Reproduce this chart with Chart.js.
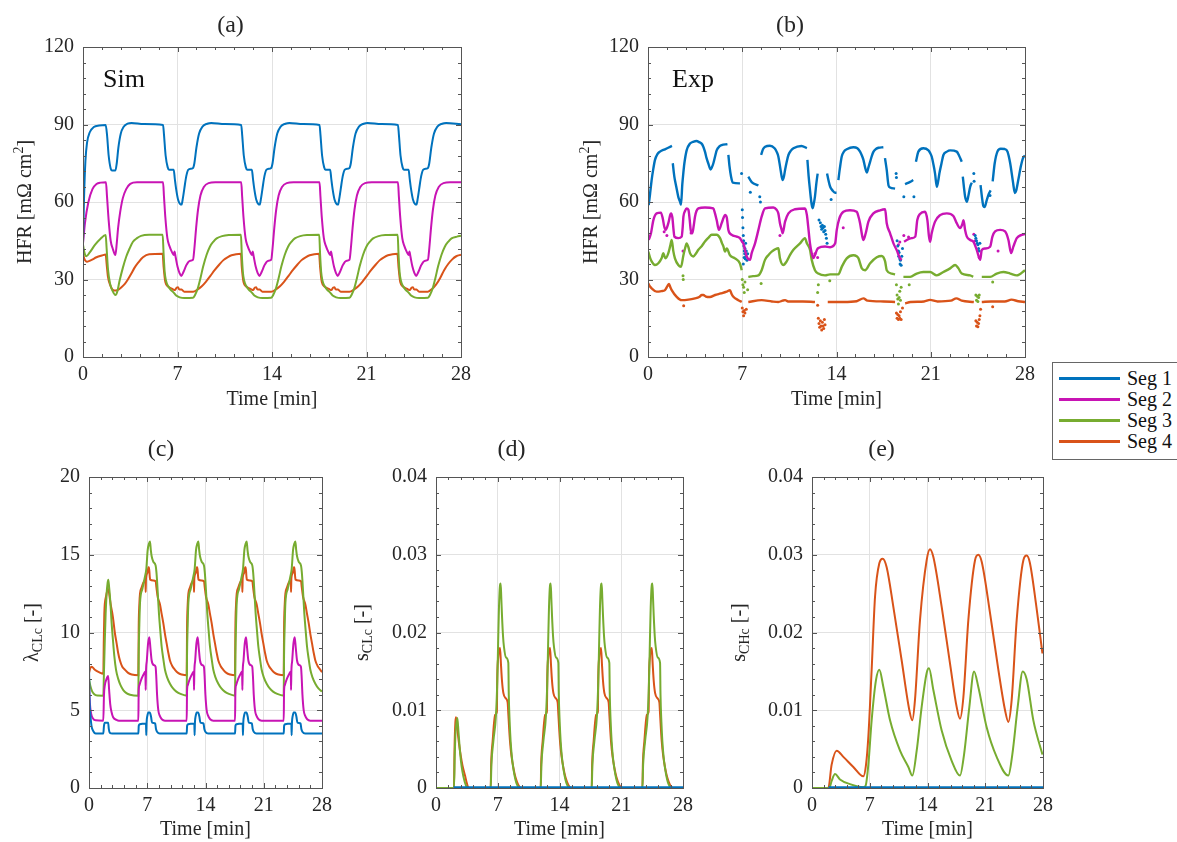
<!DOCTYPE html>
<html>
<head>
<meta charset="utf-8">
<script src="https://cdn.jsdelivr.net/npm/chart.js@4.4.0/dist/chart.umd.min.js"></script>
<style>
  html, body { margin: 0; padding: 0; background: #fff; overflow: hidden; }
  #wrap { position: relative; width: 1177px; height: 842px; overflow: hidden; }
  canvas { position: absolute; }
  .note { position: absolute; font: 26px 'Liberation Serif', serif; line-height: 26px; color: #111; }
  #legend { position: absolute; left: 1052px; top: 362px; width: 170px; height: 96px; border: 1px solid #666; background: #fff; }
  #legend .row { position: absolute; left: 0; width: 100%; height: 20px; }
  #legend .ln { position: absolute; left: 6px; top: 9px; width: 61px; height: 2.5px; }
  #legend .tx { position: absolute; left: 74px; top: 0; font: 20px 'Liberation Serif', serif; line-height: 20px; color: #111; }
</style>
</head>
<body>
<div id="wrap">
  <canvas id="chartA" width="534" height="420" style="left:0;top:0"></canvas>
  <canvas id="chartB" width="562" height="420" style="left:555px;top:0"></canvas>
  <canvas id="chartC" width="400" height="422" style="left:0;top:420px"></canvas>
  <canvas id="chartD" width="428" height="422" style="left:340px;top:420px"></canvas>
  <canvas id="chartE" width="404" height="422" style="left:720px;top:420px"></canvas>
  <div class="note" style="left:103px;top:66px">Sim</div>
  <div class="note" style="left:672px;top:66px">Exp</div>
  <div id="legend"></div>
</div>
<script>
// series names / colours
const segNames = ['Seg 1', 'Seg 2', 'Seg 3', 'Seg 4'];
const segColors = ['#0072bd', '#c814b4', '#77ac30', '#d95319'];

// tick labels
const timeTicks = [0, 7, 14, 21, 28];
const hfrTicks = [0, 30, 60, 90, 120];
const lambdaTicks = [0, 5, 10, 15, 20];
const satTicks = [0, 0.01, 0.02, 0.03, 0.04];

// (a) simulated HFR [mOhm cm2] vs time [min]
const hfrSimSeg1 = [[0,44],[0.08,62],[0.18,76],[0.3,83],[0.5,87],[0.8,89],[1.2,89.6],[1.68,89.8],[1.78,86],[1.9,78],[2.05,73],[2.15,72.2],[2.4,72.2],[2.5,75],[2.62,81],[2.8,86.5],[3.0,89],[3.3,90.3],[3.6,90.6],[4.5,90.2],[5.93,89.8],
  [6.0,86],[6.12,78],[6.27,73.5],[6.37,72.5],[6.72,72.5],[6.8,69],[6.9,65],[7.04,61],[7.2,59.2],[7.3,59],[7.4,61.5],[7.5,65],[7.65,70],[7.8,72.5],[8.15,73.2],[8.25,75],[8.4,81],[8.6,86.5],[8.85,89.2],[9.2,90.3],[9.5,90.6],[10.5,90.2],[11.72,89.8],
  [11.79,86],[11.91,78],[12.06,73.5],[12.16,72.5],[12.51,72.5],[12.59,69],[12.69,65],[12.83,61],[12.99,59.2],[13.09,59],[13.19,61.5],[13.29,65],[13.44,70],[13.59,72.5],[13.94,73.2],[14.04,75],[14.19,81],[14.39,86.5],[14.64,89.2],[14.99,90.3],[15.29,90.6],[16.3,90.2],[17.52,89.8],
  [17.59,86],[17.71,78],[17.86,73.5],[17.96,72.5],[18.31,72.5],[18.39,69],[18.49,65],[18.63,61],[18.79,59.2],[18.89,59],[18.99,61.5],[19.09,65],[19.24,70],[19.39,72.5],[19.74,73.2],[19.84,75],[19.99,81],[20.19,86.5],[20.44,89.2],[20.79,90.3],[21.09,90.6],[22.1,90.2],[23.33,89.8],
  [23.4,86],[23.52,78],[23.67,73.5],[23.77,72.5],[24.12,72.5],[24.2,69],[24.3,65],[24.44,61],[24.6,59.2],[24.7,59],[24.8,61.5],[24.9,65],[25.05,70],[25.2,72.5],[25.55,73.2],[25.65,75],[25.8,81],[26.0,86.5],[26.25,89.2],[26.6,90.3],[26.9,90.6],[28,90.1]];
const hfrSimSeg2 = [[0,44],[0.15,52],[0.4,60],[0.7,65],[1.0,67],[1.3,67.5],[1.7,67.6],[1.78,62],[1.9,53],[2.05,45],[2.2,42],[2.4,39.5],[2.5,44],[2.6,50],[2.75,56],[2.95,61.5],[3.2,65],[3.5,67],[4.0,67.6],[5.93,67.6],
  [6.0,62],[6.1,54],[6.25,46],[6.4,43],[6.6,40.5],[6.72,39.5],[6.78,40.8],[6.85,39],[7.0,35],[7.15,32.5],[7.28,31.4],[7.45,33],[7.65,35.5],[7.9,37.2],[8.15,37.6],[8.25,42],[8.38,50],[8.52,57],[8.7,62.5],[8.95,65.8],[9.3,67.3],[9.8,67.6],[11.72,67.6],
  [11.79,62],[11.89,54],[12.04,46],[12.19,43],[12.39,40.5],[12.51,39.5],[12.57,40.8],[12.64,39],[12.79,35],[12.94,32.5],[13.07,31.4],[13.24,33],[13.44,35.5],[13.69,37.2],[13.94,37.6],[14.04,42],[14.17,50],[14.31,57],[14.49,62.5],[14.74,65.8],[15.09,67.3],[15.59,67.6],[17.52,67.6],
  [17.59,62],[17.69,54],[17.84,46],[17.99,43],[18.19,40.5],[18.31,39.5],[18.37,40.8],[18.44,39],[18.59,35],[18.74,32.5],[18.87,31.4],[19.04,33],[19.24,35.5],[19.49,37.2],[19.74,37.6],[19.84,42],[19.97,50],[20.11,57],[20.29,62.5],[20.54,65.8],[20.89,67.3],[21.39,67.6],[23.33,67.6],
  [23.4,62],[23.5,54],[23.65,46],[23.8,43],[24.0,40.5],[24.12,39.5],[24.18,40.8],[24.25,39],[24.4,35],[24.55,32.5],[24.68,31.4],[24.85,33],[25.05,35.5],[25.3,37.2],[25.55,37.6],[25.65,42],[25.78,50],[25.92,57],[26.1,62.5],[26.35,65.8],[26.7,67.3],[27.2,67.6],[28,67.6]];
const hfrSimSeg3 = [[0,43.5],[0.1,40.5],[0.25,39],[0.5,40.5],[0.9,43.5],[1.3,45.8],[1.68,47.2],[1.75,42],[1.85,34],[2.0,28.5],[2.2,25.5],[2.4,24],[2.55,25.5],[2.7,29.3],[2.95,34.5],[3.2,38.8],[3.45,42],[3.7,44.6],[4.0,46],[4.3,46.9],[4.9,47.3],[5.9,47.3],
  [5.97,40],[6.05,33],[6.15,29.5],[6.3,27.5],[6.5,26],[6.7,25],[6.9,23.8],[7.16,23.1],[7.5,22.8],[8.15,22.9],[8.3,24],[8.5,26.5],[8.7,30.5],[8.9,35],[9.15,39.5],[9.4,42.7],[9.65,44.6],[9.9,45.9],[10.3,46.8],[10.8,47.2],[11.7,47.3],
  [11.76,40],[11.84,33],[11.94,29.5],[12.09,27.5],[12.29,26],[12.49,25],[12.69,23.8],[12.95,23.1],[13.29,22.8],[13.94,22.9],[14.09,24],[14.29,26.5],[14.49,30.5],[14.69,35],[14.94,39.5],[15.19,42.7],[15.44,44.6],[15.69,45.9],[16.09,46.8],[16.59,47.2],[17.5,47.3],
  [17.56,40],[17.64,33],[17.74,29.5],[17.89,27.5],[18.09,26],[18.29,25],[18.49,23.8],[18.75,23.1],[19.09,22.8],[19.74,22.9],[19.89,24],[20.09,26.5],[20.29,30.5],[20.49,35],[20.74,39.5],[20.99,42.7],[21.24,44.6],[21.49,45.9],[21.89,46.8],[22.39,47.2],[23.31,47.3],
  [23.37,40],[23.45,33],[23.55,29.5],[23.7,27.5],[23.9,26],[24.1,25],[24.3,23.8],[24.56,23.1],[24.9,22.8],[25.55,22.9],[25.7,24],[25.9,26.5],[26.1,30.5],[26.3,35],[26.55,39.5],[26.8,42.7],[27.05,44.6],[27.3,45.9],[27.7,46.6],[28,46.9]];
const hfrSimSeg4 = [[0,40],[0.1,38],[0.3,36.9],[0.6,37.5],[1.0,38.6],[1.4,39.3],[1.68,39.7],[1.75,36],[1.85,31],[2.0,28],[2.2,26],[2.45,25.7],[2.65,26.2],[2.85,27],[3.1,28.3],[3.3,29.8],[3.55,32],[3.8,34.4],[4.1,36.6],[4.44,38.6],[4.9,39.8],[5.9,40],
  [5.97,35],[6.1,29],[6.3,27.3],[6.67,26.2],[6.8,25.9],[6.95,26.9],[7.04,27],[7.12,26.2],[7.3,26.1],[7.5,25.3],[8.15,25.3],[8.5,26.2],[8.8,27.4],[9.1,29.1],[9.45,31.5],[9.75,33.6],[10.1,35.8],[10.4,37.5],[10.7,38.6],[11.0,39.4],[11.7,40],
  [11.76,35],[11.89,29],[12.09,27.3],[12.46,26.2],[12.59,25.9],[12.74,26.9],[12.83,27],[12.91,26.2],[13.09,26.1],[13.29,25.3],[13.94,25.3],[14.29,26.2],[14.59,27.4],[14.89,29.1],[15.24,31.5],[15.54,33.6],[15.89,35.8],[16.19,37.5],[16.49,38.6],[16.79,39.4],[17.49,40],
  [17.56,35],[17.69,29],[17.89,27.3],[18.26,26.2],[18.39,25.9],[18.54,26.9],[18.63,27],[18.71,26.2],[18.89,26.1],[19.09,25.3],[19.74,25.3],[20.09,26.2],[20.39,27.4],[20.69,29.1],[21.04,31.5],[21.34,33.6],[21.69,35.8],[21.99,37.5],[22.29,38.6],[22.59,39.4],[23.29,40],
  [23.37,35],[23.5,29],[23.7,27.3],[24.07,26.2],[24.2,25.9],[24.35,26.9],[24.44,27],[24.52,26.2],[24.7,26.1],[24.9,25.3],[25.55,25.3],[25.85,26.3],[26.15,28],[26.45,30.5],[26.75,33.6],[27.05,36],[27.35,37.8],[27.65,39],[28,39.6]];

// (b) experimental HFR, null = gap in the record
const hfrExpSeg1 = [[0.05,58.8],[0.15,63],[0.27,68.5],[0.4,73],[0.52,76.3],[0.7,78.5],[0.89,79.5],[1.26,80.4],[1.5,81],[1.78,81.7],[1.8,null],
  [1.84,75],[1.95,70],[2.1,65.9],[2.25,62],[2.38,60.1],[2.45,58.9],[2.55,67],[2.62,71],[2.7,74.9],[2.87,80],[3.12,82.6],[3.4,83.4],[3.6,83.6],[3.8,83.2],[3.98,82.6],[4.1,81.5],[4.23,79.5],[4.35,77],[4.48,74.9],[4.65,72.6],[4.75,73.5],[4.85,74.9],[5.0,78],[5.1,80],[5.3,81.5],[5.47,82],[5.9,82.4],[5.93,null],
  [5.97,78.2],[6.05,74],[6.17,69.8],[6.3,67.5],[6.83,67.2],[6.85,null],
  [7.45,69.8],[7.6,68.5],[7.7,67.7],[8.2,66.4],[8.25,null],
  [8.4,78.2],[8.55,80.5],[8.7,81.4],[9.06,81.8],[9.4,80.8],[9.55,79.5],[9.68,77.6],[9.8,74],[9.93,69.8],[10.0,68.5],[10.1,70],[10.18,72.4],[10.3,75.5],[10.43,78.2],[10.6,79.8],[10.8,80.8],[11.4,81.7],[11.8,80.8],[11.82,null],
  [11.84,76.3],[11.93,70],[12.03,64.7],[12.16,58.9],[12.23,57.6],[12.3,59],[12.4,62.1],[12.5,67],[12.6,71],[12.62,null],
  [13.3,71],[13.4,68.5],[13.53,65.9],[13.7,64.5],[13.9,63.6],[14.0,63.6],[14.05,null],
  [14.14,68.5],[14.25,73],[14.39,77.6],[14.55,79.5],[14.76,80.4],[15.25,81.2],[15.55,80.8],[15.75,79.5],[15.9,77.8],[16.0,76.3],[16.12,73.5],[16.25,71.4],[16.38,73.5],[16.5,75.6],[16.62,77.8],[16.75,79.5],[16.95,80.6],[17.12,81.0],[17.48,81.2],[17.5,null],
  [17.6,77],[17.73,72.4],[17.86,66.5],[17.98,65.6],[18.35,65.2],[18.4,null],
  [19.09,66.9],[19.47,67.8],[19.7,68.5],[19.75,null],
  [19.9,75.6],[20.08,79.5],[20.45,80.8],[20.83,80],[20.95,79],[21.07,77.6],[21.2,74.5],[21.32,71],[21.45,65.9],[21.55,68],[21.64,71],[21.8,75],[21.94,78.2],[22.2,79.5],[22.44,80],[22.93,79.5],[23.1,78],[23.3,75.6],[23.33,null],
  [23.38,69.8],[23.47,65.5],[23.55,62.1],[23.68,60.1],[23.8,62.5],[23.93,65.9],[24.05,67.5],[24.1,null],
  [24.7,66.5],[24.8,62],[24.9,58.5],[25.0,58],[25.15,60.5],[25.3,63],[25.45,64.5],[25.5,null],
  [25.6,68],[25.75,75],[25.95,79.5],[26.2,80.6],[26.5,80.5],[26.7,79.5],[26.9,75],[27.1,68],[27.25,63.5],[27.35,64.5],[27.5,68.5],[27.7,74],[27.85,77],[28.0,78]];
const hfrExpSeg2 = [[0.05,45.3],[0.22,47.9],[0.4,53],[0.64,55.6],[0.96,55.9],[1.1,53.5],[1.21,50.4],[1.31,49.2],[1.51,51.8],[1.65,55],[1.71,55.6],[1.81,54],[1.9,49],[1.96,46.6],[2.25,46],[2.5,46.6],[2.58,50.5],[2.63,54.3],[2.75,56.5],[2.87,57.5],[3.0,57],[3.1,53],[3.17,49.2],[3.29,47.9],[3.4,51],[3.49,54.3],[3.6,56.5],[3.74,57.5],[4.23,57.9],[4.85,57.5],[4.98,55.5],[5.1,53],[5.27,49.2],[5.47,51.8],[5.62,54],[5.72,55],[5.85,54],[5.97,49.2],[6.22,47.3],[6.59,46.6],[6.83,46],[7.0,44.5],[7.08,44],[7.2,41.5],[7.33,38.9],[7.58,37.6],[7.7,40.2],[7.95,44],[8.2,49.2],[8.44,54.3],[8.69,57.5],[9.31,57.9],[9.55,57],[9.68,55.6],[9.8,51.8],[9.93,49.2],[10.0,47.9],[10.18,52.4],[10.43,55.6],[10.92,57.2],[11.66,57.5],[11.8,55],[11.9,50.4],[12.03,44],[12.16,40.2],[12.28,38.3],[12.4,39.5],[12.55,41.5],[12.65,42.2],[13.15,42.8],[13.52,42.5],[13.9,44],[14.02,49.2],[14.2,53.5],[14.51,56.2],[15.0,56.8],[15.5,56.2],[15.65,54],[15.75,51.8],[15.92,46.6],[16.0,45.3],[16.17,47.9],[16.37,52.4],[16.74,55.6],[17.24,56.8],[17.61,57.2],[17.73,51.8],[17.98,47.9],[18.23,44],[18.47,41.4],[18.72,38.2],[18.85,37.6],[18.9,null],
  [19.02,44.6],[19.22,45.3],[19.59,46],[19.85,46.6],[20.0,53],[20.2,55.4],[20.57,56.2],[20.75,53],[20.87,46.6],[20.95,44.6],[21.07,47.9],[21.32,52.4],[21.69,54.9],[22.19,55.6],[22.68,54.6],[22.93,51.8],[23.18,49.9],[23.35,51.5],[23.43,53],[23.55,49.2],[23.68,46.6],[23.93,45.3],[24.17,44.6],[24.42,41.4],[24.67,37.6],[24.79,41.4],[25.04,42],[25.41,42.7],[25.58,46.6],[25.78,48.6],[26.15,49.2],[26.52,48.6],[26.77,45.3],[26.97,40.2],[27.14,42.8],[27.39,46],[27.76,47.3],[28.0,47.6]];
const hfrExpSeg3 = [[0.02,40.8],[0.15,38.5],[0.27,37],[0.52,35.6],[0.77,36.3],[1.01,38.2],[1.14,40.2],[1.22,39],[1.31,38.2],[1.51,40.2],[1.65,43],[1.76,45.3],[1.88,41],[2.0,38.2],[2.25,35.6],[2.45,34.9],[2.63,39.4],[2.75,42],[2.87,44],[3.0,42.5],[3.12,40.2],[3.37,38.9],[3.55,40],[3.74,41.5],[4.0,43],[4.23,44.7],[4.5,46.2],[4.73,47.3],[5.1,47.3],[5.35,46],[5.5,44],[5.6,42.8],[5.72,40.8],[5.85,42],[6.09,39.4],[6.46,38.2],[6.83,36.2],[6.96,33.6],[7.0,null],
  [7.45,31],[7.8,31.3],[8.2,31.6],[8.44,33.6],[8.69,37.6],[8.95,39.5],[9.19,40.8],[9.68,42.1],[9.75,40],[9.8,38.2],[10.05,35.6],[10.3,37],[10.55,39.5],[10.8,41.5],[11.29,44],[11.66,46],[11.8,44],[12.03,41.5],[12.16,37.6],[12.4,33.6],[12.65,32.3],[13.15,31.6],[13.52,32],[14.14,32],[14.39,34.9],[14.76,38.2],[15.25,39.4],[15.5,39],[15.63,38.2],[15.88,34.3],[16.12,33.6],[16.5,36.3],[16.99,38.6],[17.36,39.1],[17.61,37],[17.73,33.6],[18.1,32.3],[18.35,32],[18.4,null],
  [18.97,31],[19.47,31],[19.96,32.3],[20.45,32.9],[20.95,32.9],[21.45,31.6],[21.94,32.9],[22.44,34.3],[22.81,35.6],[23.06,34.3],[23.3,32.3],[23.93,31.6],[24.15,31],[24.2,null],
  [24.79,31],[25.41,31],[25.9,32.3],[26.4,32.9],[26.9,32.3],[27.39,31.6],[28.0,33.6]];
const hfrExpSeg4 = [[0.02,28.5],[0.15,27.3],[0.27,26.6],[0.64,25.3],[1.0,25.5],[1.26,25.9],[1.45,27.5],[1.56,28.3],[1.66,27],[1.76,25.9],[2.13,23.3],[2.5,22],[3.0,22.2],[3.49,22.7],[3.8,23.2],[4.0,24],[4.11,24],[4.3,23.4],[4.6,23.2],[4.98,24],[5.4,24.6],[5.84,25.3],[6.09,25.9],[6.2,24.5],[6.34,23.3],[6.71,22],[6.96,21.3],[7.0,null],
  [7.45,21.3],[8.44,22],[9.2,21.5],[9.68,21.3],[10.0,21.8],[10.18,22],[10.4,21.5],[11.5,21.5],[12.4,21.3],[12.45,null],
  [13.35,21.3],[14.5,21.3],[15.5,21.6],[16.0,22.7],[16.3,21.8],[17.5,21.5],[18.35,21.3],[18.4,null],
  [19.1,20.7],[19.5,21.3],[20.5,21.5],[20.95,22.1],[21.5,21.5],[22.5,21.8],[22.9,22.7],[23.3,21.8],[24.2,21.3],[24.25,null],
  [24.79,21.3],[25.5,21.5],[26.5,21.5],[27.0,22.2],[27.5,21.6],[28.0,21.3]];
// (b) scattered single readings
const hfrExpDots1 = [[6.95,71],[7.0,57],[7.02,54],[7.05,50],[7.08,47],[7.1,45],[7.12,43],[7.15,41],[7.18,40],[7.2,42],[7.22,38],[7.25,44],[7.28,39],[7.3,41],[7.35,37.5],[7.4,40],[7.08,36],[7.14,38.5],[7.6,63.8],[8.3,62],[8.35,60],
  [12.7,53],[12.8,52],[12.85,50.5],[12.9,49.5],[12.95,51],[13.0,50],[13.05,48.5],[13.1,50.5],[13.15,49],[13.2,47.5],[13.25,46],[13.3,44],[13.6,61],
  [18.43,71],[18.45,69.5],[18.5,45],[18.55,43],[18.6,41],[18.62,39],[18.65,40.5],[18.7,38],[18.72,36],[18.75,37.5],[18.8,35.5],[18.85,39],[18.9,42],[19.0,62],[19.75,62],
  [24.2,71],[24.22,68],[24.3,47],[24.35,46],[24.4,45],[24.45,44],[24.5,43.5],[24.55,42],[24.6,41],[24.65,44],[25.4,62.5]];
const hfrExpDots2 = [[1.2,48.5],[1.4,47],[2.6,41],[3.2,48],[9.8,47],[12.4,40],[12.6,38.5],[14.5,50],[18.6,43.5],[18.7,44.5],[19.0,47],[19.35,46.5],[24.2,47.5],[24.3,45],[24.6,38.5],[26.0,41]];
const hfrExpDots3 = [[2.6,31.5],[2.62,30],[7.0,30],[7.05,28],[7.1,27],[7.15,25],[7.2,29],[7.4,26],[8.4,28.5],[12.6,25],[12.65,28],[13.5,29.5],[18.45,28],[18.5,24],[18.55,22.5],[18.6,20.5],[18.65,23],[18.7,25.5],[18.75,22],[18.8,27],[19.4,28],[24.35,24],[24.4,22],[24.45,23.5],[24.5,21.5],[24.55,23],[24.6,24],[25.6,29]];
const hfrExpDots4 = [[2.65,19.8],[7.0,19],[7.05,17.5],[7.1,16],[7.15,18],[7.2,17],[7.3,18.5],[12.6,20],[12.65,15],[12.7,13],[12.75,11.5],[12.8,14],[12.85,12],[12.9,10.5],[12.95,13.5],[13.0,12],[13.05,11],[13.1,14.5],[13.15,12.5],
  [18.45,17],[18.5,15],[18.55,16.5],[18.6,14.5],[18.65,16],[18.7,15],[18.75,17.5],[18.8,14.5],[18.9,19],[24.35,14],[24.4,12],[24.45,13.5],[24.5,11.7],[24.55,13],[24.6,14.5],[24.65,16],[24.7,18.5],[25.6,19.5]];

// (c) lambda_CLc [-]
const lambdaSeg1 = [[0,8],[0.05,6],[0.15,4.8],[0.3,4.0],[0.52,3.65],[0.8,3.5],[1.72,3.5],[1.8,4.0],[1.9,4.2],[2.3,4.2],[2.38,3.8],[2.5,3.55],[2.8,3.5],[5.93,3.5],
  [5.98,4.0],[6.1,4.1],[6.85,4.15],[6.88,3.4],[6.92,4.2],[7.0,4.6],[7.13,4.85],[7.3,4.85],[7.45,4.6],[7.58,4.2],[7.95,4.15],[8.05,3.8],[8.2,3.6],[8.5,3.5],[11.74,3.5],
  [11.79,4.0],[11.91,4.1],[12.66,4.15],[12.69,3.4],[12.73,4.2],[12.81,4.6],[12.94,4.85],[13.11,4.85],[13.26,4.6],[13.39,4.2],[13.76,4.15],[13.86,3.8],[14.01,3.6],[14.31,3.5],[17.55,3.5],
  [17.6,4.0],[17.72,4.1],[18.47,4.15],[18.5,3.4],[18.54,4.2],[18.62,4.6],[18.75,4.85],[18.92,4.85],[19.07,4.6],[19.2,4.2],[19.57,4.15],[19.67,3.8],[19.82,3.6],[20.12,3.5],[23.4,3.5],
  [23.45,4.0],[23.57,4.1],[24.32,4.15],[24.35,3.4],[24.39,4.2],[24.47,4.6],[24.6,4.85],[24.77,4.85],[24.92,4.6],[25.05,4.2],[25.42,4.15],[25.52,3.8],[25.67,3.6],[25.97,3.5],[28,3.5]];
const lambdaSeg2 = [[0,6.8],[0.1,5.5],[0.25,4.8],[0.5,4.45],[0.8,4.35],[1.72,4.33],[1.8,6.0],[1.9,6.6],[2.1,7.0],[2.3,7.2],[2.42,6.3],[2.55,5.4],[2.7,4.9],[2.9,4.55],[3.3,4.38],[3.6,4.33],[5.93,4.33],
  [5.97,6.2],[6.05,6.6],[6.33,7.05],[6.65,7.4],[6.78,7.5],[6.81,6.3],[6.85,7.5],[6.95,8.2],[7.1,9.3],[7.25,9.7],[7.38,9.0],[7.53,8.2],[7.81,7.9],[8.0,7.8],[8.08,7.2],[8.18,6.0],[8.33,5.0],[8.5,4.65],[8.75,4.42],[9.13,4.33],[11.74,4.33],
  [11.78,6.2],[11.86,6.6],[12.14,7.05],[12.46,7.4],[12.59,7.5],[12.62,6.3],[12.66,7.5],[12.76,8.2],[12.91,9.3],[13.06,9.7],[13.19,9.0],[13.34,8.2],[13.62,7.9],[13.81,7.8],[13.89,7.2],[13.99,6.0],[14.14,5.0],[14.31,4.65],[14.56,4.42],[14.94,4.33],[17.55,4.33],
  [17.59,6.2],[17.67,6.6],[17.95,7.05],[18.27,7.4],[18.4,7.5],[18.43,6.3],[18.47,7.5],[18.57,8.2],[18.72,9.3],[18.87,9.7],[19.0,9.0],[19.15,8.2],[19.43,7.9],[19.62,7.8],[19.7,7.2],[19.8,6.0],[19.95,5.0],[20.12,4.65],[20.37,4.42],[20.75,4.33],[23.4,4.33],
  [23.44,6.2],[23.52,6.6],[23.8,7.05],[24.12,7.4],[24.25,7.5],[24.28,6.3],[24.32,7.5],[24.42,8.2],[24.57,9.3],[24.72,9.7],[24.85,9.0],[25.0,8.2],[25.28,7.9],[25.47,7.8],[25.55,7.2],[25.65,6.0],[25.8,5.0],[25.97,4.65],[26.22,4.42],[26.6,4.33],[28,4.33]];
const lambdaSeg3 = [[0,7.0],[0.15,6.6],[0.35,6.25],[0.6,6.05],[1.0,5.95],[1.72,5.94],[1.8,7.5],[1.9,9.5],[2.0,11.2],[2.12,12.5],[2.24,13.2],[2.32,13.4],[2.42,12.9],[2.52,12.3],[2.62,11.5],[2.72,10.6],[2.88,9.5],[3.04,8.5],[3.25,7.6],[3.52,7.0],[3.8,6.6],[4.12,6.3],[4.5,6.1],[4.93,6.0],[5.93,5.94],
  [5.97,8.5],[6.05,10.5],[6.13,11.9],[6.41,12.8],[6.73,13.6],[6.89,14.1],[7.05,15.3],[7.2,15.7],[7.33,15.85],[7.43,15.3],[7.53,14.9],[7.73,14.55],[8.01,14.3],[8.1,13.9],[8.17,13.4],[8.29,12.3],[8.41,11.2],[8.57,10.1],[8.73,9.1],[8.93,8.3],[9.13,7.6],[9.4,7.1],[9.73,6.7],[10.1,6.4],[10.5,6.2],[11.0,6.05],[11.74,5.94],
  [11.78,8.5],[11.86,10.5],[11.94,11.9],[12.22,12.8],[12.54,13.6],[12.7,14.1],[12.86,15.3],[13.01,15.7],[13.14,15.85],[13.24,15.3],[13.34,14.9],[13.54,14.55],[13.82,14.3],[13.91,13.9],[13.98,13.4],[14.1,12.3],[14.22,11.2],[14.38,10.1],[14.54,9.1],[14.74,8.3],[14.94,7.6],[15.21,7.1],[15.54,6.7],[15.91,6.4],[16.31,6.2],[16.81,6.05],[17.55,5.94],
  [17.59,8.5],[17.67,10.5],[17.75,11.9],[18.03,12.8],[18.35,13.6],[18.51,14.1],[18.67,15.3],[18.82,15.7],[18.95,15.85],[19.05,15.3],[19.15,14.9],[19.35,14.55],[19.63,14.3],[19.72,13.9],[19.79,13.4],[19.91,12.3],[20.03,11.2],[20.19,10.1],[20.35,9.1],[20.55,8.3],[20.75,7.6],[21.02,7.1],[21.35,6.7],[21.72,6.4],[22.12,6.2],[22.62,6.05],[23.4,5.94],
  [23.44,8.5],[23.52,10.5],[23.6,11.9],[23.88,12.8],[24.2,13.6],[24.36,14.1],[24.52,15.3],[24.67,15.7],[24.8,15.85],[24.9,15.3],[25.0,14.9],[25.2,14.55],[25.48,14.3],[25.57,13.9],[25.64,13.4],[25.76,12.3],[25.88,11.2],[26.04,10.1],[26.2,9.1],[26.4,8.3],[26.6,7.6],[26.87,7.1],[27.2,6.7],[27.57,6.4],[28,6.2]];
const lambdaSeg4 = [[0,7.4],[0.15,7.7],[0.32,7.8],[0.7,7.6],[1.2,7.45],[1.72,7.35],[1.78,9.5],[1.84,11.2],[2.04,12.3],[2.32,12.8],[2.5,12.2],[2.64,11.7],[2.78,11.3],[2.92,10.8],[3.1,10.0],[3.32,9.3],[3.5,8.7],[3.72,8.2],[4.0,7.8],[4.33,7.6],[4.7,7.4],[5.13,7.3],[5.93,7.25],
  [5.97,10.2],[6.05,11.8],[6.13,12.5],[6.33,12.9],[6.53,13.2],[6.78,13.4],[6.81,12.6],[6.85,13.5],[7.0,13.8],[7.15,14.2],[7.21,14.2],[7.3,13.6],[7.35,13.4],[7.73,13.35],[8.01,13.3],[8.1,12.9],[8.25,12.3],[8.53,11.8],[8.73,11.2],[8.93,10.6],[9.13,9.9],[9.33,9.3],[9.53,8.7],[9.73,8.2],[10.0,7.85],[10.33,7.6],[10.7,7.4],[11.14,7.3],[11.74,7.25],
  [11.78,10.2],[11.86,11.8],[11.94,12.5],[12.14,12.9],[12.34,13.2],[12.59,13.4],[12.62,12.6],[12.66,13.5],[12.81,13.8],[12.96,14.2],[13.02,14.2],[13.11,13.6],[13.16,13.4],[13.54,13.35],[13.82,13.3],[13.91,12.9],[14.06,12.3],[14.34,11.8],[14.54,11.2],[14.74,10.6],[14.94,9.9],[15.14,9.3],[15.34,8.7],[15.54,8.2],[15.81,7.85],[16.14,7.6],[16.51,7.4],[16.95,7.3],[17.55,7.25],
  [17.59,10.2],[17.67,11.8],[17.75,12.5],[17.95,12.9],[18.15,13.2],[18.4,13.4],[18.43,12.6],[18.47,13.5],[18.62,13.8],[18.77,14.2],[18.83,14.2],[18.92,13.6],[18.97,13.4],[19.35,13.35],[19.63,13.3],[19.72,12.9],[19.87,12.3],[20.15,11.8],[20.35,11.2],[20.55,10.6],[20.75,9.9],[20.95,9.3],[21.15,8.7],[21.35,8.2],[21.62,7.85],[21.95,7.6],[22.32,7.4],[22.76,7.3],[23.4,7.25],
  [23.44,10.2],[23.52,11.8],[23.6,12.5],[23.8,12.9],[24.0,13.2],[24.25,13.4],[24.28,12.6],[24.32,13.5],[24.47,13.8],[24.62,14.2],[24.68,14.2],[24.77,13.6],[24.82,13.4],[25.2,13.35],[25.48,13.3],[25.57,12.9],[25.72,12.3],[26.0,11.8],[26.2,11.2],[26.4,10.6],[26.6,9.9],[26.8,9.3],[27.0,8.7],[27.2,8.2],[27.47,7.85],[27.8,7.6],[28,7.45]];

// (d) s_CLc [-]
const sClSeg1 = [[2.0,0],[28,0]];
const sClSeg2 = [[2.0,0],[28,0]];
const sClSeg3 = [[0,0],[2.04,0],[2.12,0.004],[2.19,0.0066],[2.3,0.0082],[2.42,0.009],[2.55,0.0072],[2.72,0.0047],[2.9,0.0028],[3.1,0.0015],[3.4,0.0003],[3.6,0],
  [6.2,0],[6.28,0.003],[6.5,0.006],[6.8,0.0094],[6.95,0.0138],[7.05,0.019],[7.14,0.0233],[7.25,0.026],[7.33,0.0263],[7.4,0.0245],[7.48,0.0222],[7.6,0.0195],[7.7,0.0182],[7.93,0.0168],[8.2,0.0161],[8.25,0.012],[8.35,0.0085],[8.46,0.006],[8.6,0.004],[8.77,0.0025],[9.0,0.0011],[9.2,0.0004],[9.45,0],
  [11.87,0],[11.95,0.003],[12.17,0.006],[12.47,0.0094],[12.62,0.0138],[12.72,0.019],[12.81,0.0233],[12.92,0.026],[13.0,0.0263],[13.07,0.0245],[13.15,0.0222],[13.27,0.0195],[13.37,0.0182],[13.6,0.0168],[13.87,0.0161],[13.92,0.012],[14.02,0.0085],[14.13,0.006],[14.27,0.004],[14.44,0.0025],[14.67,0.0011],[14.87,0.0004],[15.12,0],
  [17.65,0],[17.73,0.003],[17.95,0.006],[18.25,0.0094],[18.4,0.0138],[18.5,0.019],[18.59,0.0233],[18.7,0.026],[18.78,0.0263],[18.85,0.0245],[18.93,0.0222],[19.05,0.0195],[19.15,0.0182],[19.38,0.0168],[19.65,0.0161],[19.7,0.012],[19.8,0.0085],[19.91,0.006],[20.05,0.004],[20.22,0.0025],[20.45,0.0011],[20.65,0.0004],[20.9,0],
  [23.4,0],[23.48,0.003],[23.7,0.006],[24.0,0.0094],[24.15,0.0138],[24.25,0.019],[24.34,0.0233],[24.45,0.026],[24.53,0.0263],[24.6,0.0245],[24.68,0.0222],[24.8,0.0195],[24.9,0.0182],[25.13,0.0168],[25.4,0.0161],[25.45,0.012],[25.55,0.0085],[25.66,0.006],[25.8,0.004],[25.97,0.0025],[26.2,0.0011],[26.4,0.0004],[26.65,0],[28,0]];
const sClSeg4 = [[0,0],[2.04,0],[2.1,0.005],[2.2,0.0085],[2.27,0.0091],[2.4,0.0078],[2.6,0.0058],[2.8,0.0042],[3.0,0.0029],[3.29,0.0016],[3.5,0.0006],[3.7,0],
  [6.2,0],[6.25,0.003],[6.42,0.006],[6.7,0.0094],[6.9,0.0098],[6.95,0.0145],[7.05,0.0168],[7.14,0.0177],[7.26,0.018],[7.36,0.016],[7.48,0.0138],[7.64,0.0122],[7.93,0.0115],[8.12,0.011],[8.2,0.0095],[8.3,0.0075],[8.39,0.006],[8.55,0.0042],[8.77,0.0026],[9.0,0.0014],[9.33,0.0004],[9.7,0],
  [11.87,0],[11.92,0.003],[12.09,0.006],[12.37,0.0094],[12.57,0.0098],[12.62,0.0145],[12.72,0.0168],[12.81,0.0177],[12.93,0.018],[13.03,0.016],[13.15,0.0138],[13.31,0.0122],[13.6,0.0115],[13.79,0.011],[13.87,0.0095],[13.97,0.0075],[14.06,0.006],[14.22,0.0042],[14.44,0.0026],[14.67,0.0014],[15.0,0.0004],[15.37,0],
  [17.65,0],[17.7,0.003],[17.87,0.006],[18.15,0.0094],[18.35,0.0098],[18.4,0.0145],[18.5,0.0168],[18.59,0.0177],[18.71,0.018],[18.81,0.016],[18.93,0.0138],[19.09,0.0122],[19.38,0.0115],[19.57,0.011],[19.65,0.0095],[19.75,0.0075],[19.84,0.006],[20.0,0.0042],[20.22,0.0026],[20.45,0.0014],[20.78,0.0004],[21.15,0],
  [23.4,0],[23.45,0.003],[23.62,0.006],[23.9,0.0094],[24.1,0.0098],[24.15,0.0145],[24.25,0.0168],[24.34,0.0177],[24.46,0.018],[24.56,0.016],[24.68,0.0138],[24.84,0.0122],[25.13,0.0115],[25.32,0.011],[25.4,0.0095],[25.5,0.0075],[25.59,0.006],[25.75,0.0042],[25.97,0.0026],[26.2,0.0014],[26.53,0.0004],[26.9,0],[28,0]];

// (e) s_CHc [-]
const sChSeg1 = [[2.0,0],[28,0]];
const sChSeg2 = [[2.0,0],[28,0]];
const sChSeg3 = [[0,0],[2.1,0],[2.38,0.0009],[2.79,0.0018],[3.39,0.0011],[4.6,0.0005],[6.22,0.0001],[6.5,0.0003],[6.83,0.003],[7.23,0.0087],[7.76,0.0139],[8.16,0.0152],[8.65,0.013],[9.46,0.0087],[10.67,0.0048],[11.68,0.0027],[12.16,0.0016],[12.69,0.0048],[13.29,0.0104],[13.9,0.0148],[14.18,0.0154],[14.71,0.0126],[15.72,0.0074],[16.93,0.0035],[17.94,0.0016],[18.43,0.0043],[19.07,0.0104],[19.64,0.015],[20.16,0.013],[21.17,0.0078],[22.38,0.004],[23.8,0.0016],[24.28,0.0043],[24.93,0.0104],[25.54,0.015],[26.02,0.014],[26.83,0.0087],[27.93,0.0043]];
const sChSeg4 = [[0,0],[1.98,0],[2.38,0.003],[2.99,0.0048],[3.8,0.004],[5.01,0.0027],[6.22,0.0015],[6.55,0.003],[6.83,0.0066],[7.23,0.0152],[7.64,0.0246],[8.16,0.0289],[8.57,0.0295],[9.05,0.0284],[9.86,0.0233],[10.87,0.0164],[11.8,0.01],[12.16,0.0087],[12.48,0.0113],[13.09,0.0216],[13.9,0.0293],[14.3,0.0307],[14.71,0.0297],[15.72,0.0233],[16.73,0.016],[17.54,0.0104],[17.94,0.0089],[18.35,0.0117],[18.95,0.0216],[19.76,0.0293],[20.16,0.03],[20.57,0.0291],[21.58,0.0225],[22.59,0.0152],[23.4,0.01],[23.8,0.0085],[24.2,0.0113],[24.81,0.0216],[25.62,0.0293],[26.02,0.0299],[26.4,0.029],[27.2,0.0233],[27.93,0.0173]];

const serif = "'Liberation Serif', 'DejaVu Serif', serif";
const inkColor = '#262626';
const toXY = pts => pts.map(([x, y]) => ({ x, y }));

// MATLAB-like box with inward major/minor tick marks
const frameTicks = {
  id: 'frameTicks',
  afterDatasetsDraw(chart) {
    const { ctx, chartArea: { left, right, top, bottom }, scales: { x, y } } = chart;
    ctx.save();
    ctx.strokeStyle = '#555';
    ctx.lineWidth = 1;
    ctx.beginPath();
    const mark = (vals, scale, horiz) => {
      for (let i = 0; i < vals.length - 1; i++) {
        const step = (vals[i + 1] - vals[i]) / 5;
        for (let k = 0; k < 5; k++) {
          const len = k === 0 ? 5 : 3;
          const p = Math.round(scale.getPixelForValue(vals[i] + k * step)) + 0.5;
          if (horiz) {
            ctx.moveTo(p, bottom); ctx.lineTo(p, bottom - len);
            ctx.moveTo(p, top); ctx.lineTo(p, top + len);
          } else {
            ctx.moveTo(left, p); ctx.lineTo(left + len, p);
            ctx.moveTo(right, p); ctx.lineTo(right - len, p);
          }
        }
      }
    };
    mark(x.ticks.map(t => t.value), x, true);
    mark(y.ticks.map(t => t.value), y, false);
    ctx.stroke();
    ctx.strokeRect(Math.round(left) + 0.5, Math.round(top) + 0.5, Math.round(right - left), Math.round(bottom - top));
    ctx.restore();
  }
};

// rotated y label with sub/superscripts
const yLabel = {
  id: 'yLabel',
  afterDraw(chart, args, opts) {
    const { ctx, chartArea } = chart;
    ctx.save();
    ctx.translate(opts.x, (chartArea.top + chartArea.bottom) / 2);
    ctx.rotate(-Math.PI / 2);
    ctx.fillStyle = inkColor;
    ctx.textBaseline = 'middle';
    const fonts = opts.parts.map(p => (p.small ? 14 : 20) + 'px ' + serif);
    let total = 0;
    opts.parts.forEach((p, i) => { ctx.font = fonts[i]; total += ctx.measureText(p.text).width; });
    let x = -total / 2;
    opts.parts.forEach((p, i) => {
      ctx.font = fonts[i];
      ctx.fillText(p.text, x, p.dy || 0);
      x += ctx.measureText(p.text).width;
    });
    ctx.restore();
  }
};

function makePanel(p) {
  const canvas = document.getElementById(p.id);
  const widths = p.widths || [2, 2, 2, 2];
  const datasets = p.series.map((s, i) => ({
    label: segNames[i],
    data: toXY(s),
    borderColor: segColors[i],
    backgroundColor: segColors[i],
    borderWidth: widths[i],
    pointRadius: 0,
    cubicInterpolationMode: 'monotone',
    spanGaps: false,
    fill: false
  }));
  (p.dots || []).forEach((s, i) => datasets.push({
    label: segNames[i] + ' dots',
    data: toXY(s),
    showLine: false,
    borderColor: segColors[i],
    backgroundColor: segColors[i],
    pointRadius: 1.5,
    pointBorderWidth: 0
  }));
  const tickFont = { family: serif, size: 20 };
  new Chart(canvas, {
    type: 'line',
    data: { datasets },
    options: {
      responsive: false,
      animation: false,
      events: [],
      layout: { padding: { left: 0, right: p.padRight, top: 0, bottom: 0 } },
      plugins: {
        legend: { display: false },
        tooltip: { enabled: false },
        title: {
          display: true, text: p.title, color: inkColor,
          font: { family: serif, size: 24, weight: 'normal', lineHeight: 1.2 },
          padding: { top: p.titleTop, bottom: p.titleBottom }
        },
        yLabel: { x: p.labelX, parts: p.yParts }
      },
      scales: {
        x: {
          type: 'linear', min: 0, max: 28,
          afterBuildTicks: s => { s.ticks = timeTicks.map(v => ({ value: v })); },
          afterFit: s => { s.height = p.xHeight; },
          ticks: { font: tickFont, color: inkColor, padding: 6, maxRotation: 0, callback: v => String(v) },
          grid: { color: '#e2e2e2', drawTicks: false },
          border: { display: false },
          title: { display: true, text: 'Time [min]', color: inkColor, font: tickFont, padding: { top: 0, bottom: p.xTitlePad } }
        },
        y: {
          type: 'linear', min: p.yTicks[0], max: p.yTicks[p.yTicks.length - 1],
          afterBuildTicks: s => { s.ticks = p.yTicks.map(v => ({ value: v })); },
          afterFit: s => { s.width = p.yWidth; },
          ticks: { font: tickFont, color: inkColor, padding: 9, callback: v => String(v) },
          grid: { color: '#e2e2e2', drawTicks: false },
          border: { display: false }
        }
      }
    },
    plugins: [frameTicks, yLabel]
  });
}

const hfrParts = [{ text: 'HFR [mΩ cm' }, { text: '2', small: true, dy: -7 }, { text: ']' }];

makePanel({ id: 'chartA', title: '(a)', padRight: 73, yWidth: 83, xHeight: 63, xTitlePad: 8, titleTop: 11, titleBottom: 7.2,
  labelX: 26, yParts: hfrParts, yTicks: hfrTicks, series: [hfrSimSeg1, hfrSimSeg2, hfrSimSeg3, hfrSimSeg4] });
makePanel({ id: 'chartB', title: '(b)', padRight: 92, yWidth: 93, xHeight: 63, xTitlePad: 8, titleTop: 11, titleBottom: 7.2,
  labelX: 37, yParts: hfrParts, yTicks: hfrTicks, widths: [2.4, 2.4, 2.4, 2.4],
  series: [hfrExpSeg1, hfrExpSeg2, hfrExpSeg3, hfrExpSeg4],
  dots: [hfrExpDots1, hfrExpDots2, hfrExpDots3, hfrExpDots4] });
makePanel({ id: 'chartC', title: '(c)', padRight: 78, yWidth: 89, xHeight: 54, xTitlePad: 0, titleTop: 15.6, titleBottom: 12.6,
  labelX: 33, yParts: [{ text: 'λ' }, { text: 'CLc', small: true, dy: 5 }, { text: ' [-]' }], yTicks: lambdaTicks,
  series: [lambdaSeg1, lambdaSeg2, lambdaSeg3, lambdaSeg4] });
makePanel({ id: 'chartD', title: '(d)', padRight: 85, yWidth: 96, xHeight: 54, xTitlePad: 0, titleTop: 15.6, titleBottom: 12.6,
  labelX: 23, yParts: [{ text: 's' }, { text: 'CLc', small: true, dy: 5 }, { text: ' [-]' }], yTicks: satTicks, widths: [3.5, 2, 2, 2],
  series: [sClSeg1, sClSeg2, sClSeg3, sClSeg4] });
makePanel({ id: 'chartE', title: '(e)', padRight: 81, yWidth: 92, xHeight: 54, xTitlePad: 0, titleTop: 15.6, titleBottom: 12.6,
  labelX: 20, yParts: [{ text: 's' }, { text: 'CHc', small: true, dy: 5 }, { text: ' [-]' }], yTicks: satTicks, widths: [3.5, 2, 2, 2],
  series: [sChSeg1, sChSeg2, sChSeg3, sChSeg4] });

// shared legend
const legend = document.getElementById('legend');
segNames.forEach((name, i) => {
  const row = document.createElement('div');
  row.className = 'row';
  row.style.top = (5 + i * 21) + 'px';
  row.innerHTML = '<span class="ln" style="background:' + segColors[i] + '"></span><span class="tx">' + name + '</span>';
  legend.appendChild(row);
});
</script>
</body>
</html>
